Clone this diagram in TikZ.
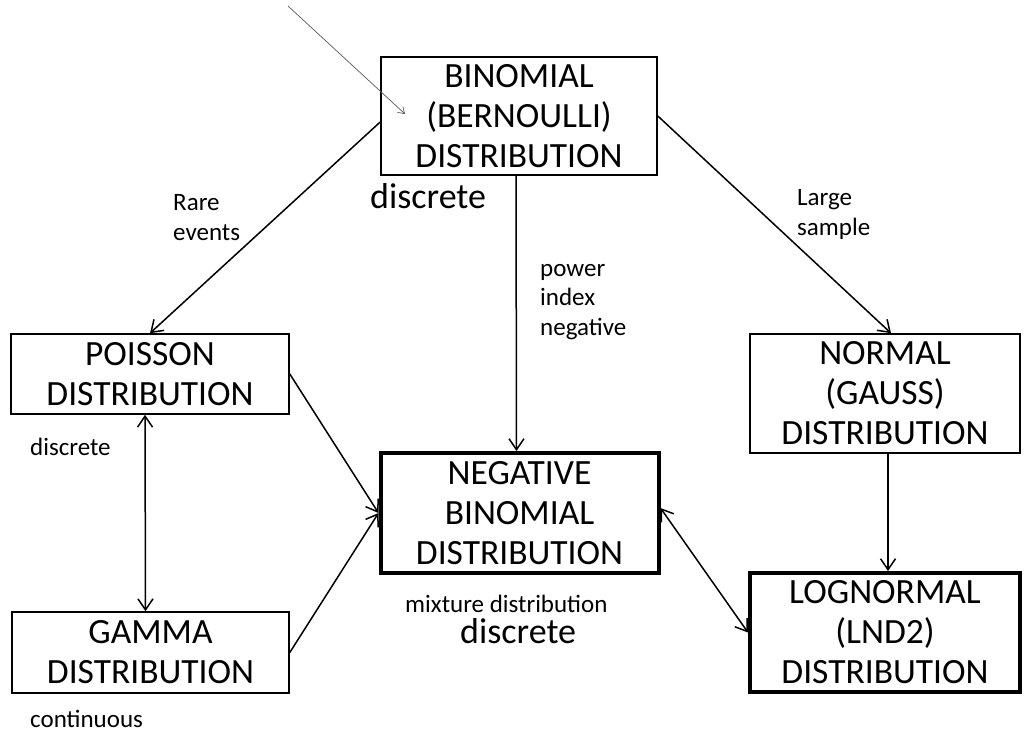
\documentclass[tikz,border=0pt]{standalone}
\usepackage{fontspec}
\setmainfont{Carlito}
\usetikzlibrary{arrows.meta}

\begin{document}
\begin{tikzpicture}[x=1pt, y=-1pt, >={Straight Barb[length=11pt, width=15pt]},
	box/.style={draw, line width=1.6pt, align=center, inner sep=0pt, font=\fontsize{35.5}{40}\selectfont},
	boldbox/.style={box, line width=4pt},
	lab/.style={anchor=base west, align=left, inner sep=0pt, font=\fontsize{25}{29.5}\selectfont},
	biglab/.style={anchor=base west, inner sep=0pt, font=\fontsize{36}{40}\selectfont},
	link/.style={line width=1.5pt}]
	\useasboundingbox (0,0) rectangle (1024,733);
	% Distributions
	\node[box, minimum width=276pt, minimum height=118pt] (binom) at (519,116) {BINOMIAL\\(BERNOULLI)\\DISTRIBUTION};
	\node[box, minimum width=278pt, minimum height=80pt] (poisson) at (150,374) {POISSON\\DISTRIBUTION};
	\node[box, minimum width=277pt, minimum height=81pt] (gamma) at (150.5,652.5) {GAMMA\\DISTRIBUTION};
	\node[boldbox, minimum width=278pt, minimum height=120pt] (negbin) at (519.5,513) {NEGATIVE\\BINOMIAL\\DISTRIBUTION};
	\node[box, minimum width=270pt, minimum height=119pt] (normal) at (885,393.5) {NORMAL\\(GAUSS)\\DISTRIBUTION};
	\node[boldbox, minimum width=270pt, minimum height=119pt] (lognorm) at (885,632.5) {LOGNORMAL\\(LND2)\\DISTRIBUTION};
	% Labels (base = last line)
	\node[lab] (rare) at (173,240) {Rare\\events};
	\node[lab] (large) at (797,235) {Large\\sample};
	\node[lab] (power) at (540,335) {power\\index\\negative};
	\node[biglab] (discbin) at (370,208) {discrete};
	\node[lab] (discpois) at (30,455) {discrete};
	\node[lab] (mixture) at (405,612) {mixture distribution};
	\node[biglab] (discneg) at (460,643) {discrete};
	\node[lab] (cont) at (30,727) {continuous};
	% Links
	\draw[link, ->] ([yshift=-6pt]binom.west) -- (poisson.north);
	\draw[link, ->] (binom.east) -- ([xshift=6pt]normal.north);
	\draw[link, ->] ([xshift=-3pt]binom.south) -- ([xshift=-3pt]negbin.north);
	\draw[link, ->] (poisson.east) -- (negbin.west);
	\draw[link, ->] (gamma.east) -- (negbin.west);
	\draw[link, <->] ([xshift=-5pt]poisson.south) -- ([xshift=-5pt]gamma.north);
	\draw[link, ->] ([xshift=3pt]normal.south) -- ([xshift=3pt]lognorm.north);
	\draw[link, <->] ([yshift=5pt]negbin.east) -- (lognorm.west);
	% Pointer
	\coordinate (tail) at (288,6);
	\coordinate (tip) at (405,114);
	\draw[line width=0.7pt, black!65, -{Straight Barb[length=6pt, width=8pt]}] (tail) -- (tip);
\end{tikzpicture}
\end{document}
